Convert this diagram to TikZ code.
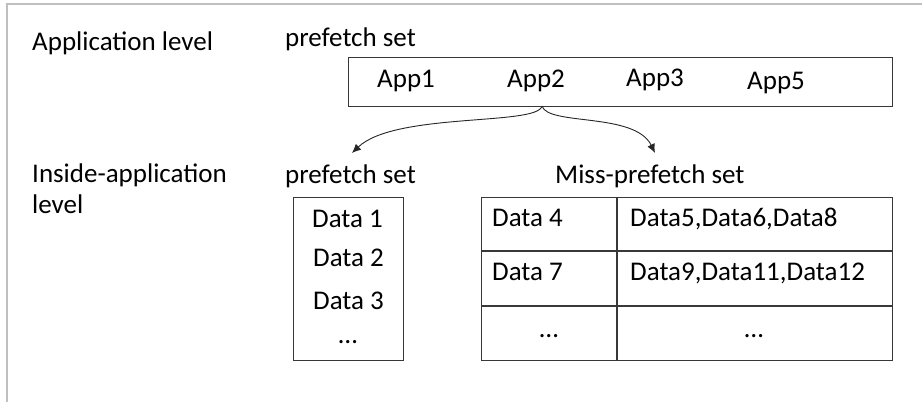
\documentclass[tikz,border=0pt]{standalone}
\usepackage{fontspec}
\setmainfont{Carlito}
\usetikzlibrary{arrows.meta}
\begin{document}
\begin{tikzpicture}[x=1pt,y=-1pt,
  txt/.style={anchor=base west, inner sep=0pt, font=\fontsize{27}{31}\selectfont},
  ctxt/.style={anchor=base, inner sep=0pt, font=\fontsize{27}{31}\selectfont},
  frame/.style={draw=black!78, line width=1.4pt, inner sep=0pt, anchor=north west},
  rule/.style={draw=black!78, line width=1.4pt},
  link/.style={draw=black!85, line width=0.9pt, -{Latex[length=9pt,width=8pt]}},
  edge/.style={draw=black!25, line width=2pt}]
\useasboundingbox (0,0) rectangle (922,402);
% outer frame edges
\draw[edge] (7,402) -- (7,4) -- (922,4);

% application level
\node[txt] (applvl) at (32,50) {Application level};
\node[txt] (pfset1) at (285,46) {prefetch set};
\node[frame, minimum width=544, minimum height=49] (appset) at (348,57) {};
\node[txt] (app1) at (377,87) {App1};
\node[txt] (app2) at (507,87) {App2};
\node[txt] (app3) at (626,86) {App3};
\node[txt] (app5) at (747,89) {App5};

% split from App2 into the two sets below
\coordinate (fork) at (542,106);
\coordinate (lt) at (352,153);
\coordinate (rt) at (655,153);
\draw[link] (fork) .. controls (538,126) and (395,112) .. (lt);
\draw[link] (fork) .. controls (548,126) and (635,112) .. (rt);

% inside-application level
\node[txt] (inlvl) at (32,182) {Inside-application};
\node[txt] (inlvl2) at (32,213) {level};
\node[txt] (pfset2) at (285,183) {prefetch set};
\node[txt] (mpset) at (555,183) {Miss-prefetch set};

% prefetch list
\node[frame, minimum width=110, minimum height=163] (plist) at (293,197) {};
\node[txt] (d1) at (312,227) {Data 1};
\node[txt] (d2) at (313,266) {Data 2};
\node[txt] (d3) at (313,309) {Data 3};
\node[ctxt] (dmore) at (348,343) {…};

% miss-prefetch table
\node[frame, minimum width=411, minimum height=163] (mtab) at (481,197) {};
\draw[rule] (617,197) -- (617,360);
\draw[rule] (481,251) -- (892,251);
\draw[rule] (481,306) -- (892,306);
\node[txt] (d4) at (492,226) {Data 4};
\node[txt] (d568) at (630,226) {Data5,Data6,Data8};
\node[txt] (d7) at (492,280) {Data 7};
\node[txt] (d91112) at (630,280) {Data9,Data11,Data12};
\node[ctxt] (kmore) at (549,337) {…};
\node[ctxt] (vmore) at (754,337) {…};
\end{tikzpicture}
\end{document}
